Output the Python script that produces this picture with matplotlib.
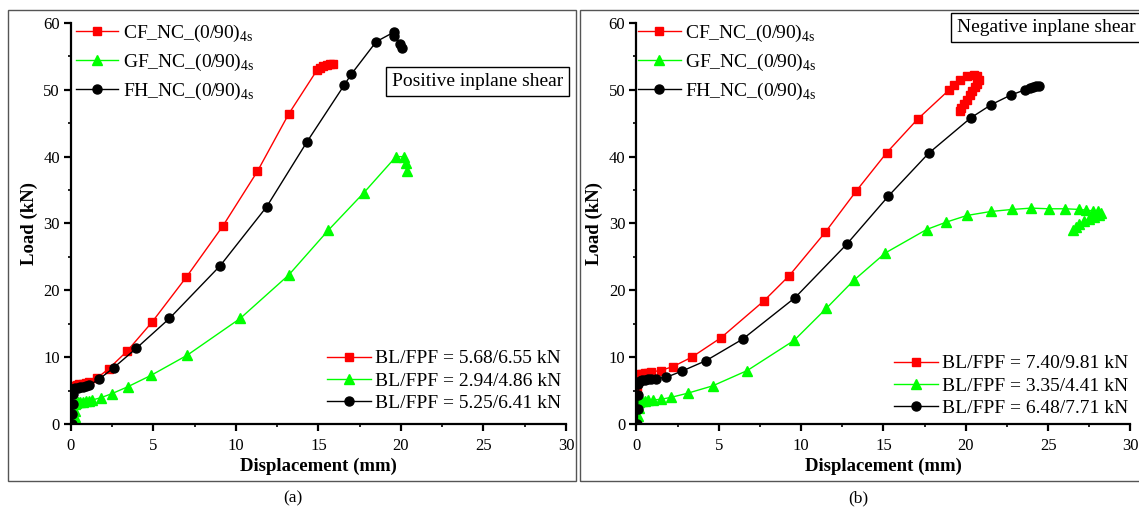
import matplotlib
matplotlib.use("Agg")
import matplotlib.pyplot as plt
from matplotlib.patches import Rectangle
from matplotlib.ticker import MultipleLocator

plt.rcParams['font.family'] = ['Liberation Serif', 'DejaVu Serif']
plt.rcParams['mathtext.fontset'] = 'custom'
plt.rcParams['mathtext.rm'] = 'Liberation Serif'

# (a) positive inplane shear
a_cf_x = [0.0, 0.02, 0.05, 0.08, 0.1, 0.2, 0.35, 0.5, 0.7, 0.9, 1.1, 1.6, 2.3, 3.4, 4.9, 7.0, 9.2, 11.3, 13.2, 14.9, 15.1, 15.3, 15.5, 15.7, 15.9]
a_cf_y = [0.0, 1.5, 3.0, 4.5, 5.68, 5.75, 5.85, 5.95, 6.05, 6.15, 6.3, 6.9, 8.3, 10.9, 15.2, 22.0, 29.6, 37.8, 46.4, 52.9, 53.2, 53.5, 53.7, 53.8, 53.8]
a_gf_x = [0.2, 0.22, 0.24, 0.25, 0.3, 0.4, 0.55, 0.7, 0.9, 1.1, 1.3, 1.82, 2.48, 3.45, 4.87, 7.05, 10.26, 13.2, 15.6, 17.75, 19.7, 20.2, 20.3, 20.35]
a_gf_y = [0.0, 1.0, 2.0, 2.94, 3.2, 3.25, 3.3, 3.35, 3.4, 3.5, 3.6, 3.94, 4.54, 5.58, 7.3, 10.3, 15.8, 22.3, 29.0, 34.6, 40.0, 40.0, 39.1, 37.9]
a_fh_x = [0.05, 0.08, 0.1, 0.12, 0.15, 0.25, 0.4, 0.55, 0.7, 0.9, 1.1, 1.7, 2.58, 3.95, 5.97, 9.05, 11.86, 14.3, 16.56, 16.98, 18.5, 19.55, 19.6, 19.95, 20.07]
a_fh_y = [0.0, 1.5, 3.0, 4.5, 5.25, 5.35, 5.45, 5.55, 5.6, 5.7, 5.8, 6.7, 8.4, 11.3, 15.8, 23.7, 32.5, 42.2, 50.7, 52.3, 57.2, 58.6, 58.0, 56.9, 56.3]

# (b) negative inplane shear
b_cf_x = [0.0, 0.02, 0.05, 0.1, 0.2, 0.35, 0.5, 0.7, 0.9, 1.46, 2.23, 3.36, 5.13, 7.73, 9.28, 11.47, 13.36, 15.2, 17.07, 18.95, 19.26, 19.67, 20.07, 20.47, 20.7, 20.78, 20.7, 20.58, 20.4, 20.27, 20.05, 19.87, 19.7, 19.63]
b_cf_y = [0.0, 2.5, 5.0, 7.4, 7.45, 7.5, 7.6, 7.7, 7.8, 8.0, 8.6, 10.0, 12.9, 18.4, 22.2, 28.7, 34.9, 40.6, 45.6, 49.9, 50.7, 51.4, 52.0, 52.2, 52.0, 51.4, 50.9, 50.4, 49.8, 49.2, 48.5, 47.9, 47.3, 46.9]
b_gf_x = [0.1, 0.12, 0.14, 0.15, 0.2, 0.35, 0.5, 0.7, 0.99, 1.5, 2.12, 3.1, 4.62, 6.73, 9.57, 11.53, 13.2, 15.12, 17.62, 18.81, 20.07, 21.53, 22.82, 23.97, 25.04, 26.05, 26.9, 27.3, 27.7, 28.0, 28.2, 28.1, 27.8, 27.5, 27.2, 26.9, 26.7, 26.5]
b_gf_y = [0.0, 1.2, 2.4, 3.35, 3.4, 3.45, 3.5, 3.55, 3.6, 3.7, 4.0, 4.6, 5.7, 8.0, 12.5, 17.3, 21.5, 25.6, 29.1, 30.2, 31.2, 31.8, 32.1, 32.3, 32.2, 32.2, 32.1, 32.0, 31.9, 31.8, 31.6, 31.3, 31.0, 30.7, 30.3, 29.9, 29.5, 29.1]
b_fh_x = [0.05, 0.07, 0.09, 0.1, 0.2, 0.35, 0.5, 0.7, 0.9, 1.17, 1.82, 2.75, 4.24, 6.45, 9.63, 12.77, 15.3, 17.74, 20.3, 21.56, 22.72, 23.6, 23.9, 24.1, 24.25, 24.42]
b_fh_y = [0.0, 2.2, 4.4, 6.0, 6.48, 6.55, 6.6, 6.7, 6.75, 6.8, 7.0, 7.9, 9.5, 12.7, 18.9, 26.9, 34.1, 40.5, 45.8, 47.8, 49.2, 50.0, 50.2, 50.4, 50.5, 50.5]

names = ['CF_NC_(0/90)$_\\mathregular{4s}$', 'GF_NC_(0/90)$_\\mathregular{4s}$', 'FH_NC_(0/90)$_\\mathregular{4s}$']
a_bl = ['BL/FPF = 5.68/6.55 kN', 'BL/FPF = 2.94/4.86 kN', 'BL/FPF = 5.25/6.41 kN']
b_bl = ['BL/FPF = 7.40/9.81 kN', 'BL/FPF = 3.35/4.41 kN', 'BL/FPF = 6.48/7.71 kN']

colors = ['#ff0000', '#00ff00', 'black']
markers = ['s', '^', 'o']
msizes = [6, 7, 6.5]

fig = plt.figure(figsize=(11.39, 5.07), dpi=100)

# panel frames
fig.add_artist(Rectangle((0.007, 0.051), 0.499, 0.929, transform=fig.transFigure,
                         fill=False, edgecolor='#555555', lw=1))
fig.add_artist(Rectangle((0.509, 0.051), 0.495, 0.929, transform=fig.transFigure,
                         fill=False, edgecolor='#555555', lw=1))

panels = [
    ([0.0623, 0.1637, 0.4346, 0.791], [(a_cf_x, a_cf_y), (a_gf_x, a_gf_y), (a_fh_x, a_fh_y)],
     a_bl, 'Positive inplane shear', (0.822, 0.854), '(a)', 293, -0.014, (1.01, 0.005)),
    ([0.5588, 0.1637, 0.4337, 0.791], [(b_cf_x, b_cf_y), (b_gf_x, b_gf_y), (b_fh_x, b_fh_y)],
     b_bl, 'Negative inplane shear', (0.829, 0.989), '(b)', 858, -0.021, (1.0146, -0.0075)),
]

for rect, series, bl, note, npos, cap, capx, l1x, l2pos in panels:
    ax = fig.add_axes(rect)
    lines = []
    for (x, y), c, m, ms in zip(series, colors, markers, msizes):
        ln, = ax.plot(x, y, color=c, lw=1, marker=m, ms=ms, mec=c, mfc=c)
        lines.append(ln)

    ax.set_xlim(0, 30)
    ax.set_ylim(0, 60)
    ax.xaxis.set_major_locator(MultipleLocator(5))
    ax.xaxis.set_minor_locator(MultipleLocator(2.5))
    ax.yaxis.set_major_locator(MultipleLocator(10))
    ax.yaxis.set_minor_locator(MultipleLocator(5))
    ax.spines['top'].set_visible(False)
    ax.spines['right'].set_visible(False)
    ax.spines['left'].set_linewidth(1.6)
    ax.spines['bottom'].set_linewidth(1.6)
    ax.tick_params(which='major', direction='out', length=5, width=1.6, labelsize=12, pad=3)
    ax.tick_params(axis='x', which='major', pad=5)
    ax.tick_params(which='minor', direction='out', length=2.5, width=1.2)
    ax.set_xlabel('Displacement (mm)', fontsize=13.5, fontweight='bold', labelpad=3)
    ax.set_ylabel('Load (kN)', fontsize=13.5, fontweight='bold', labelpad=4)

    leg1 = ax.legend(lines, names, loc='upper left', bbox_to_anchor=(l1x, 1.03), frameon=False,
                     fontsize=14, handlelength=2.2, handletextpad=0.25, labelspacing=0.41,
                     borderaxespad=0.2)
    ax.add_artist(leg1)
    ax.legend(lines, bl, loc='lower right', bbox_to_anchor=l2pos, frameon=False,
              fontsize=14, handlelength=2.25, handletextpad=0.2, labelspacing=0.25,
              borderaxespad=0.1)

    ax.text(npos[0], npos[1], note, transform=ax.transAxes, ha='center', va='center',
            fontsize=14, bbox=dict(boxstyle='square,pad=0.3', fc='white', ec='black', lw=1),
            clip_on=False)

    fig.text(capx / 1139, 1 - 498 / 507, cap, ha='center', va='center', fontsize=12.5)

fig.savefig('out.png', dpi=100)
